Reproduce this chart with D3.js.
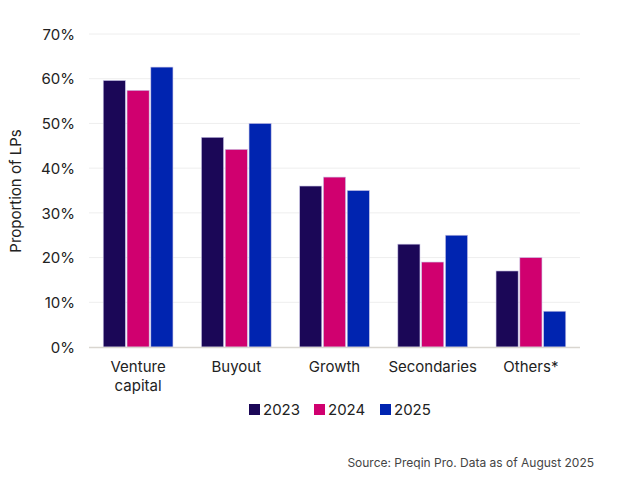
<!DOCTYPE html>
<html><head><meta charset="utf-8">
<script src="https://cdn.jsdelivr.net/npm/d3@7"></script>
<style>body{margin:0;background:#fff}svg{display:block}text{font-family:Inter,"Open Sans",sans-serif;fill:#222}</style>
</head><body><svg id="c" width="640" height="482"></svg>
<script>
const categories = ["Venture capital","Buyout","Growth","Secondaries","Others*"];
const categoryLines = [["Venture","capital"],["Buyout"],["Growth"],["Secondaries"],["Others*"]];
const seriesNames = ["2023","2024","2025"];
const values2023 = [59.6, 46.9, 36, 23, 17];
const values2024 = [57.4, 44.2, 38, 19, 20];
const values2025 = [62.6, 50, 35, 25, 8];
const yTicks = [0,10,20,30,40,50,60,70];
const colors = ["#1b0757","#d0006f","#0024b0"];

const series = [values2023, values2024, values2025];
const svg = d3.select("#c");
const m = {l:89, r:580, t:34, b:347};
const x = d3.scaleBand().domain(categories).range([m.l, m.r]).paddingInner(0.29).paddingOuter(0.145);
const xs = d3.scaleBand().domain(seriesNames).range([0, x.bandwidth()]).paddingInner(0.07);
const y = d3.scaleLinear().domain([0,70]).range([m.b, m.t]);

// grid
svg.append("g").selectAll("line").data(yTicks.filter(d=>d>0)).join("line")
  .attr("x1", m.l).attr("x2", m.r).attr("y1", d=>y(d)).attr("y2", d=>y(d))
  .attr("stroke","#eeeeee").attr("stroke-width",1);

// y axis labels
const yAxis = d3.axisLeft(y).tickValues(yTicks).tickFormat(d=>d+"%").tickSize(0).tickPadding(0);
const ya = svg.append("g").attr("transform","translate(75,0)").call(yAxis);
ya.select(".domain").remove();
ya.selectAll("text").style("font-size","15px").style("font-family","Inter").attr("fill","#222").attr("dy","0.35em");

// bars
categories.forEach((c,i)=>{
  const g = svg.append("g").attr("transform",`translate(${x(c)},0)`);
  seriesNames.forEach((s,j)=>{
    const v = series[j][i];
    g.append("rect").attr("x", xs(s)).attr("width", xs.bandwidth())
      .attr("y", y(v)).attr("height", y(0)-y(v))
      .attr("fill", colors[j]).attr("stroke","#c9c4e6").attr("stroke-width",0.6);
  });
});

// baseline
svg.append("line").attr("x1",m.l).attr("x2",m.r).attr("y1",y(0)+0.5).attr("y2",y(0)+0.5)
  .attr("stroke","#d9d6d0").attr("stroke-width",1.5);

// x labels
const xa = svg.append("g").attr("transform",`translate(0,${y(0)})`).call(d3.axisBottom(x).tickSize(0).tickFormat(""));
xa.select(".domain").remove();
categories.forEach((c,i)=>{
  const t = svg.append("text").attr("x", x(c)+x.bandwidth()/2).attr("y", 372)
    .attr("text-anchor","middle").style("font-size","15px");
  categoryLines[i].forEach((ln,k)=>t.append("tspan").attr("x", x(c)+x.bandwidth()/2).attr("dy", k===0?0:19).text(ln));
});

// y title
svg.append("text").attr("transform","translate(21,191) rotate(-90)").attr("text-anchor","middle")
  .style("font-size","15px").text("Proportion of LPs");

// legend
const legX = [249, 314, 380];
seriesNames.forEach((s,j)=>{
  svg.append("rect").attr("x", legX[j]).attr("y", 404).attr("width",11).attr("height",11).attr("fill",colors[j]);
  svg.append("text").attr("x", legX[j]+14).attr("y", 415).style("font-size","15px").text(s);
});

// source
svg.append("text").attr("x",594).attr("y",467).attr("text-anchor","end").style("font-size","12px")
  .style("fill","#444").text("Source: Preqin Pro. Data as of August 2025");
</script></body></html>
